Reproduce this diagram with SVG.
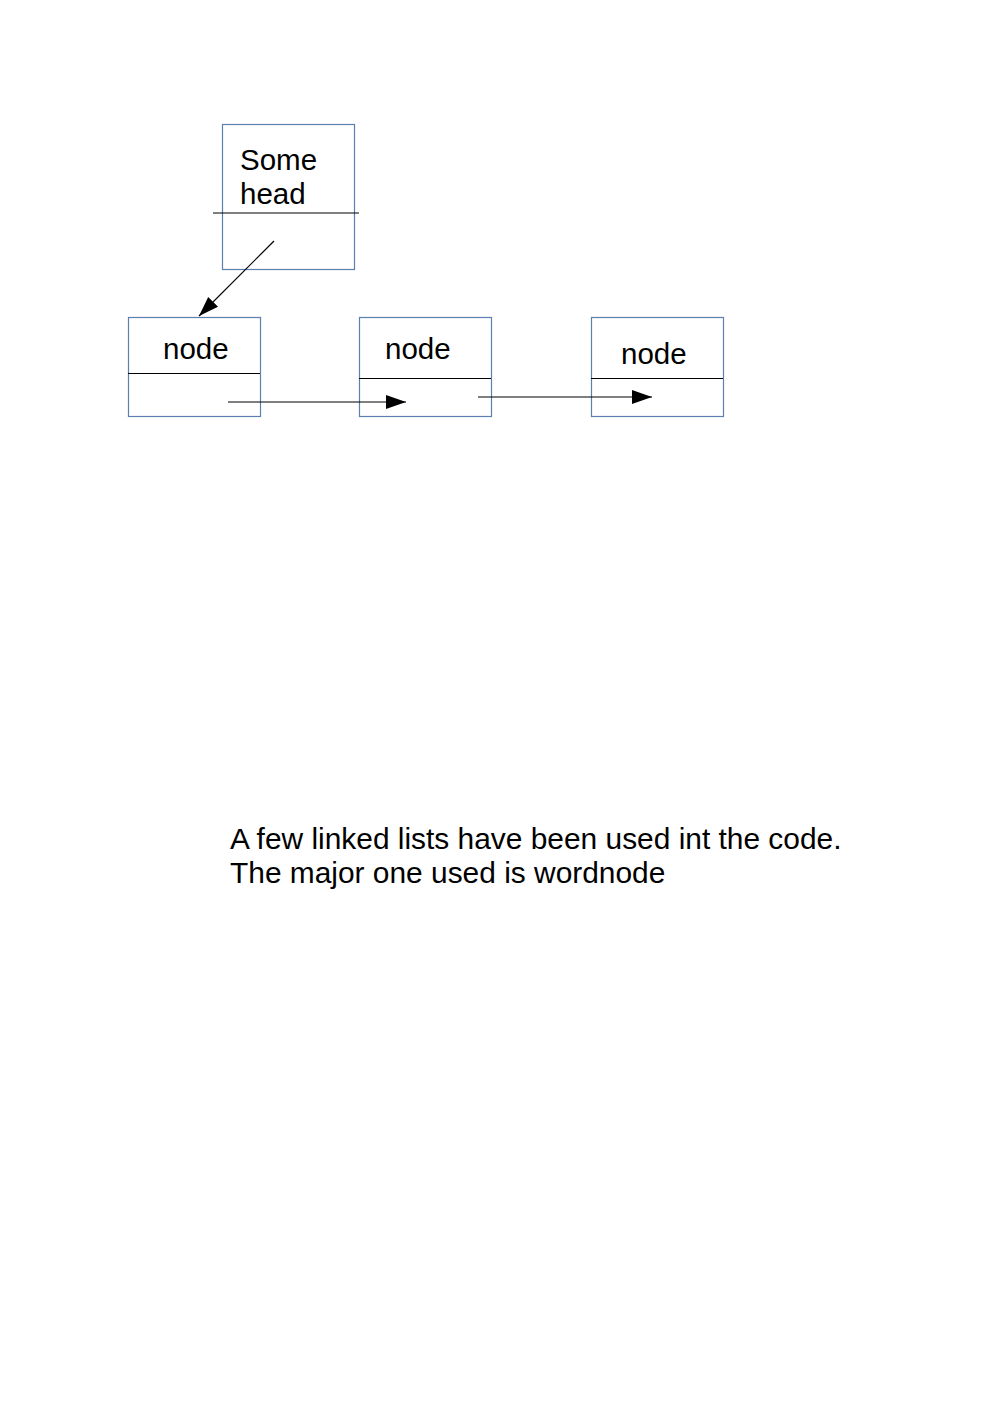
<svg xmlns="http://www.w3.org/2000/svg" width="992" height="1403" viewBox="0 0 992 1403">
<style>
.box{fill:#fff;stroke:#5a7fb0;stroke-width:1.2}
.div{stroke:#000;stroke-width:1.2}
.t{font-family:"Liberation Sans",Arial,sans-serif;font-size:29.5px;fill:#000}
.cap{font-size:29.9px}
.c{stroke:#000;stroke-width:1.2;fill:none}
</style>
<defs>
<marker id="ah" markerUnits="userSpaceOnUse" markerWidth="22" markerHeight="16" refX="20" refY="7" orient="auto">
<path d="M0,0 L20,7 L0,14 Z" fill="#000"/>
</marker>
</defs>
<rect width="992" height="1403" fill="#fff"/>
<g id="head">
<rect class="box" x="222.5" y="124.5" width="132" height="145"/>
<line class="div" x1="213" y1="213" x2="359" y2="213"/>
<text class="t" x="240" y="170">Some</text>
<text class="t" x="240" y="204">head</text>
</g>
<g id="node1">
<rect class="box" x="128.5" y="317.5" width="132" height="99"/>
<line class="div" x1="128" y1="373.5" x2="260" y2="373.5"/>
<text class="t" x="163" y="359">node</text>
</g>
<g id="node2">
<rect class="box" x="359.5" y="317.5" width="132" height="99"/>
<line class="div" x1="359" y1="378.5" x2="491" y2="378.5"/>
<text class="t" x="385" y="359">node</text>
</g>
<g id="node3">
<rect class="box" x="591.5" y="317.5" width="132" height="99"/>
<line class="div" x1="591" y1="378.5" x2="723" y2="378.5"/>
<text class="t" x="621" y="364">node</text>
</g>
<g id="connectors">
<line class="c" x1="274" y1="241" x2="199" y2="316" marker-end="url(#ah)"/>
<line class="c" x1="228" y1="402" x2="406" y2="402" marker-end="url(#ah)"/>
<line class="c" x1="478" y1="397" x2="652" y2="397" marker-end="url(#ah)"/>
</g>
<g id="caption">
<text class="t cap" x="230" y="849">A few linked lists have been used int the code.</text>
<text class="t cap" x="230" y="883">The major one used is wordnode</text>
</g>
</svg>
